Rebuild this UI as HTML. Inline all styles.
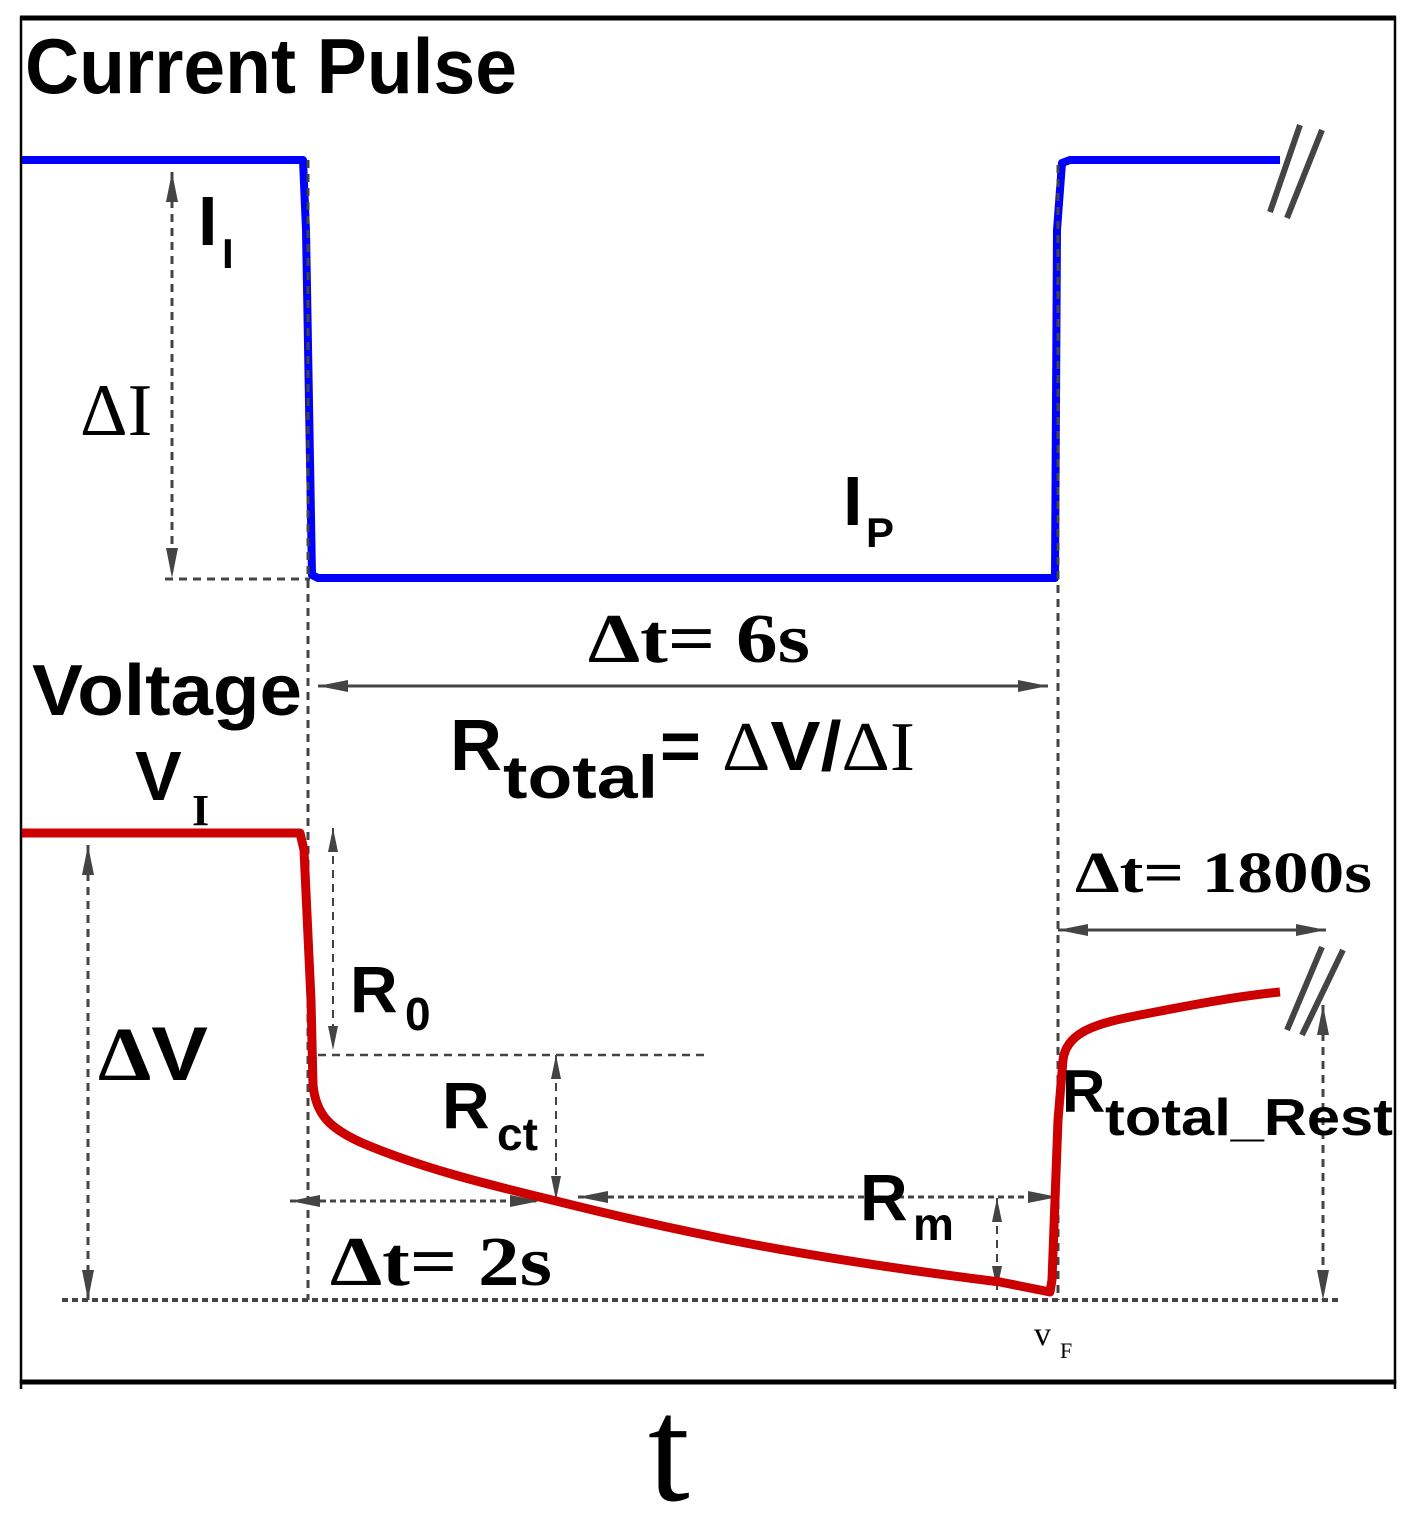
<!DOCTYPE html>
<html><head><style>body{margin:0;background:#fff}svg{display:block}</style></head><body>
<svg width="1421" height="1532" viewBox="0 0 1421 1532" xmlns="http://www.w3.org/2000/svg">
<defs>
<marker id="a" viewBox="0 0 30 12" refX="30" refY="6" markerWidth="30" markerHeight="12" orient="auto-start-reverse" markerUnits="userSpaceOnUse"><path d="M0,0 L30,6 L0,12 z" fill="#444"/></marker>
<marker id="b" viewBox="0 0 24 10" refX="24" refY="5" markerWidth="24" markerHeight="10" orient="auto-start-reverse" markerUnits="userSpaceOnUse"><path d="M0,0 L24,5 L0,10 z" fill="#444"/></marker>
</defs>
<g fill="none">
<rect x="21" y="18" width="1374" height="1364" stroke="#000" stroke-width="2.5"/>
<line x1="20" y1="18" x2="1396" y2="18" stroke="#000" stroke-width="5"/>
<line x1="20" y1="1382" x2="1396" y2="1382" stroke="#000" stroke-width="5"/>
<line x1="21" y1="1380" x2="21" y2="1389" stroke="#000" stroke-width="2.5"/>
<line x1="1395" y1="1380" x2="1395" y2="1389" stroke="#000" stroke-width="2.5"/>
<!-- blue -->
<path d="M22,160 L303,160 L306,230 L312,575 L318,578 L1055,578 L1057,230 L1062,163 L1070,160 L1280,160" stroke="#0000ff" stroke-width="8" stroke-linejoin="round"/>
<g stroke="#444" stroke-width="3" stroke-dasharray="8,6">
<line x1="308" y1="160" x2="308" y2="1300"/>
<line x1="1058" y1="165" x2="1058" y2="1300"/>
<line x1="165" y1="579" x2="310" y2="579"/>
<line x1="318" y1="1055" x2="710" y2="1055" stroke-width="2.5"/>
<line x1="62" y1="1300" x2="1340" y2="1300" stroke-width="4" stroke-dasharray="6,4"/>
<line x1="172" y1="172" x2="172" y2="578" marker-start="url(#a)" marker-end="url(#a)"/>
<line x1="88" y1="845" x2="88" y2="1300" marker-start="url(#a)" marker-end="url(#a)"/>
<line x1="333" y1="828" x2="333" y2="1050" stroke-width="2" marker-start="url(#b)" marker-end="url(#b)"/>
<line x1="556" y1="1055" x2="556" y2="1200" stroke-width="2" marker-start="url(#b)" marker-end="url(#b)"/>
<line x1="997" y1="1198" x2="997" y2="1290" stroke-width="2" marker-start="url(#b)" marker-end="url(#b)"/>
<line x1="1323" y1="1005" x2="1323" y2="1300" marker-start="url(#a)" marker-end="url(#a)"/>
<line x1="290" y1="1201" x2="540" y2="1201" stroke-dasharray="6,4" marker-start="url(#a)" marker-end="url(#a)"/>
<line x1="578" y1="1197" x2="1058" y2="1197" stroke-dasharray="6,4" marker-start="url(#a)" marker-end="url(#a)"/>
</g>
<g stroke="#444" stroke-width="3">
<line x1="318" y1="686" x2="1048" y2="686" marker-start="url(#a)" marker-end="url(#a)"/>
<line x1="1058" y1="930" x2="1326" y2="930" marker-start="url(#a)" marker-end="url(#a)"/>
</g>
<g stroke="#444" stroke-width="6">
<line x1="1270" y1="212" x2="1300" y2="125"/>
<line x1="1287" y1="218" x2="1322" y2="130"/>
<line x1="1287" y1="1030" x2="1322" y2="947"/>
<line x1="1302" y1="1035" x2="1343" y2="950"/>
</g>
<!-- red -->
<path d="M22,833 L300,833 L304,850 L311,1000 L313,1085 C316,1115 330,1128 360,1142 C420,1168 490,1185 556,1201 C680,1232 800,1257 1000,1282 L1050,1292 L1052,1280 L1058,1120 L1063,1060 C1066,1035 1090,1025 1130,1017 C1200,1003 1240,996 1280,992" stroke="#cc0000" stroke-width="9" stroke-linejoin="round"/>
</g>
<g font-family="Liberation Sans, sans-serif" font-weight="bold" fill="#000">
<text x="25" y="93" font-size="78" textLength="492" lengthAdjust="spacingAndGlyphs">Current Pulse</text>
<text x="198" y="245" font-size="70">I</text>
<text x="222" y="268" font-size="42">I</text>
<text x="843" y="525" font-size="70">I</text>
<text x="866" y="547" font-size="42">P</text>
<text x="32" y="715" font-size="72" textLength="270" lengthAdjust="spacingAndGlyphs">Voltage</text>
<text x="135" y="800" font-size="70">V</text>
<text x="450" y="770" font-size="72">R</text>
<text x="503" y="798" font-size="60" textLength="155" lengthAdjust="spacingAndGlyphs">total</text>
<text x="660" y="770" font-size="70">=</text>
<text x="98" y="1080" font-size="76" textLength="110" lengthAdjust="spacingAndGlyphs"><tspan font-family="Liberation Serif, serif">Δ</tspan>V</text>
<text x="350" y="1012" font-size="66">R</text>
<text x="405" y="1030" font-size="46">0</text>
<text x="442" y="1128" font-size="66">R</text>
<text x="497" y="1150" font-size="46">ct</text>
<text x="860" y="1220" font-size="66">R</text>
<text x="913" y="1240" font-size="46">m</text>
<text x="1062" y="1112" font-size="60">R</text>
<text x="1105" y="1135" font-size="52" textLength="288" lengthAdjust="spacingAndGlyphs">total_Rest</text>
<text x="722" y="770" font-size="70" textLength="193" lengthAdjust="spacingAndGlyphs"><tspan font-family="Liberation Serif, serif" font-weight="normal">Δ</tspan>V/<tspan font-family="Liberation Serif, serif" font-weight="normal">ΔI</tspan></text>
</g>
<g font-family="Liberation Serif, serif" fill="#000">
<text x="80" y="435" font-size="74">ΔI</text>
<text x="192" y="825" font-size="44" font-weight="bold">I</text>
<text x="588" y="662" font-size="70" font-weight="bold" textLength="222" lengthAdjust="spacingAndGlyphs">Δt= 6s</text>
<text x="330" y="1285" font-size="70" font-weight="bold" textLength="222" lengthAdjust="spacingAndGlyphs">Δt= 2s</text>
<text x="1075" y="892" font-size="58" font-weight="bold" textLength="297" lengthAdjust="spacingAndGlyphs">Δt= 1800s</text>
<text x="1034" y="1345" font-size="34">v</text>
<text x="1060" y="1358" font-size="22">F</text>
<text x="648" y="1500" font-size="150" font-family="Liberation Serif, serif">t</text>
</g>
</svg>
</body></html>
